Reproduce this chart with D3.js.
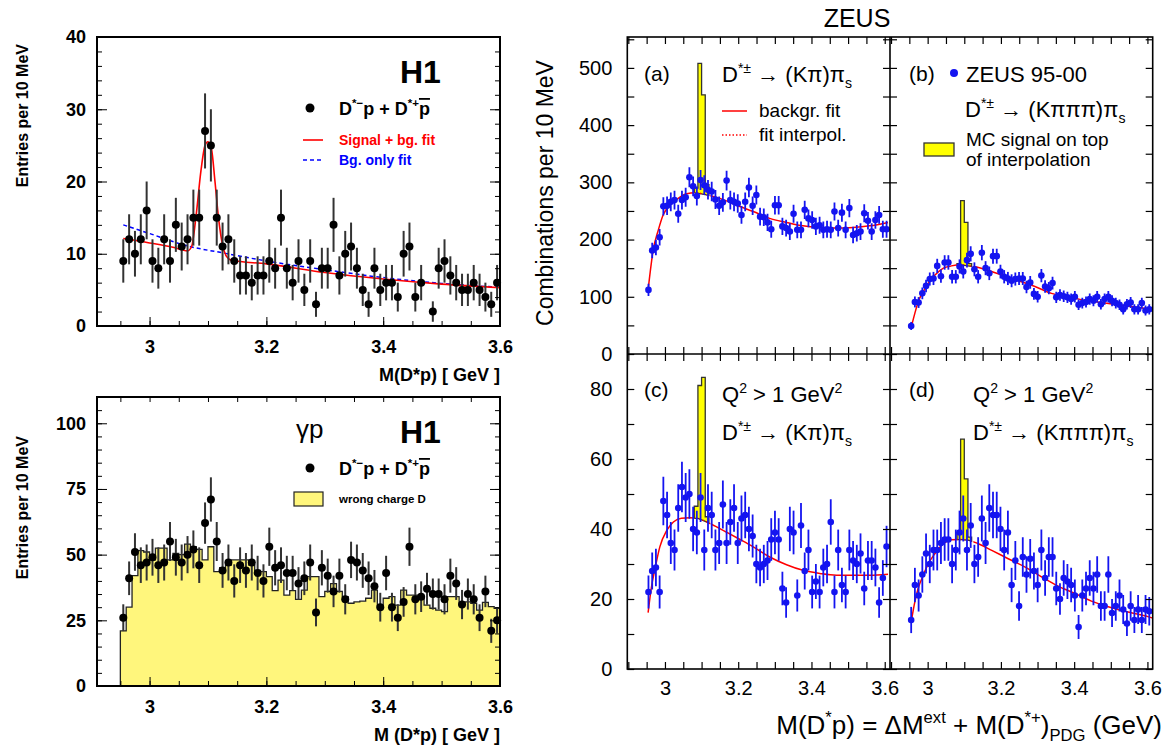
<!DOCTYPE html>
<html>
<head>
<meta charset="utf-8">
<title>D*p invariant mass: H1 and ZEUS</title>
<script src="https://d3js.org/d3.v7.min.js"></script>
<style>
  body { margin: 0; background: white; }
  svg { display: block; }
  text { font-family: "Liberation Sans", Arial, Helvetica, sans-serif; }
  .h1 text { font-weight: bold; }
  .h1 text.light { font-weight: normal; }
</style>
</head>
<body>
<svg id="chart" width="1175" height="748"></svg>
<script>
// ---------- values ----------
// H1: 10 MeV bins, first bin centre 2.955 GeV
var h1FirstBin = 2.955;
var h1BinWidth = 0.01;
// DIS sample, entries per bin (null = empty bin, not drawn)
var h1DisCounts = [9, 12, 10, 12, 16, 9, 8, 12, 9, 14, 11, 12, 15, 15, 27, 25, 15, 11, 12, 9,
  7, 7, 6, 7, 7, 9, 8, 15, 8, 6, 9, 5, 9, 3, 8, 8, 14, 7, 10, 11,
  8, 5, 3, 8, 5, 6, 6, 4, 10, 11, 4, 6, null, 2, 8, 9, 7, 6, 5, 5,
  6, 5, 4, 3, 6];
var h1SignalFit = [[2.955, 12.1], [3.0, 11.5], [3.04, 10.9], [3.065, 10.4], [3.072, 11.0], [3.08, 15.5],
  [3.088, 21.5], [3.095, 25.0], [3.1, 25.5], [3.106, 24.5], [3.112, 20], [3.118, 15], [3.125, 11.2],
  [3.132, 9.6], [3.14, 9.1], [3.2, 8.6], [3.3, 7.4], [3.4, 6.5], [3.5, 5.8], [3.6, 5.3]];
var h1BgFit = [[2.955, 14.0], [3.0, 12.8], [3.064, 11.1], [3.127, 10.1], [3.2, 9.0], [3.3, 7.8],
  [3.4, 6.7], [3.5, 5.9], [3.6, 5.35]];
// photoproduction sample
var h1PhotoCounts = [26, 41, 51, 46, 47, 49, 46, 47, 55, 49, 47, 50, 52, 46, 62, 71, 55, 44, 47, 40,
  46, 44, 47, 43, 40, 53, 45, 46, 43, 43, 39, 41, 47, 28, 45, 42, 36, 42, 33, 48,
  47, 44, 41, 38, 30, 43, 30, 26, 32, 53, 33, 34, 37, 35, 35, 33, 42, 39, 31, 35,
  33, 26, 36, 21, 25];
// wrong charge D histogram, bins 2.95-2.96 ... 3.59-3.60
var h1WrongCharge = [21, 30, 42, 51.5, 51, 48, 52.5, 52.5, 48, 50.5, 50, 54, 53, 52, 48, 53, 43.5, 45, 46, 48,
  48, 48, 46, 44, 43.5, 41.6, 36.3, 40.3, 34.6, 36.3, 33, 36.5, 41.6, 41.6, 34, 36, 39, 36, 34, 31.5,
  32, 32.3, 33.4, 36.5, 30.2, 33.4, 34, 30.8, 36.5, 34.6, 34.6, 33.4, 30.8, 29.6, 28.9, 28.3, 34, 34, 30.8, 32,
  31.5, 28.9, 31.8, 30.2, 29.6];

// ZEUS: 65 points spread evenly from the first to the last bin centre
var zeusFirstBin = 2.955;
var zeusLastBin = 3.605;
var zeusCountsA = [112, 181, 186, 204, 258, 259, 266, 269, 245, 269, 274, 309, 293, 276, 304, 295, 287, 284, 270, 259,
  265, 303, 269, 266, 263, 243, 266, 291, 259, 278, 240, 239, 230, 218, 260, 260, 223, 220, 214, 245,
  217, 217, 252, 237, 234, 223, 225, 217, 218, 217, 249, 220, 247, 217, 255, 208, 211, 214, 246, 233,
  214, 234, 243, 218, 218];
var zeusCountsB = [49, 91, 90, 106, 119, 131, 132, 154, 136, 160, 160, 135, 135, 153, 144, 164, 175, 148, 135, 177,
  150, 141, 171, 171, 144, 135, 132, 128, 131, 132, 132, 117, 125, 105, 100, 137, 118, 115, 124, 99,
  103, 101, 99, 96, 100, 86, 89, 91, 96, 93, 100, 87, 96, 100, 93, 89, 86, 78, 87, 90,
  78, 78, 89, 76, 78];
var zeusCountsC = [22, 28, 29, 22, 48, 44, 36, 34, 46, 52, 49, 50, 40, 39, 49, 34, 46, 44, 34, 36,
  47, 36, 42, 46, 36, 43, 44, 40, 38, 30, 29, 30, 31, 37, 39, 37, 23, 19, 40, 39,
  21, 41, 28, 34, 22, 25, 22, 29, 30, 42, 22, 34, 24, 22, 34, 31, 30, 33, 23, 31,
  31, 29, 19, 26, 35];
var zeusCountsD = [14, 24, 21, 27, 33, 30, 34, 34, 36, 37, 37, 30, 34, 39, 43, 34, 41, 30, 32, 43,
  36, 46, 44, 44, 40, 34, 39, 24, 31, 18, 32, 27, 31.5, 28, 24, 34, 26, 32, 32, 23,
  20, 26, 25, 24, 21, 12, 21, 23, 26, 23, 27, 18, 18, 27, 16, 18, 21, 17, 13, 18,
  14, 17, 14, 17, 16.5];
var zeusFitA = [[2.954, 112], [2.968, 182], [2.982, 217], [2.995, 243], [3.014, 260], [3.036, 272], [3.059, 280],
  [3.082, 282], [3.114, 278], [3.150, 272], [3.196, 260], [3.241, 249], [3.286, 237], [3.332, 230],
  [3.377, 224], [3.423, 221], [3.468, 220], [3.514, 221], [3.559, 224], [3.609, 230]];
var zeusFitB = [[2.956, 49], [2.965, 71], [2.974, 91], [2.988, 109], [3.002, 124], [3.020, 138], [3.043, 150],
  [3.065, 154], [3.088, 156], [3.111, 154], [3.134, 152], [3.156, 148], [3.202, 138], [3.247, 128],
  [3.293, 118], [3.338, 106], [3.383, 100], [3.429, 94], [3.475, 90], [3.520, 86], [3.565, 82], [3.611, 78]];
var zeusFitC = [[2.954, 16.1], [2.964, 24], [2.973, 28.7], [2.986, 34.9], [3.005, 39.6], [3.023, 42], [3.045, 43.1],
  [3.068, 43.2], [3.091, 43], [3.114, 42], [3.141, 40.6], [3.168, 39.1], [3.205, 37], [3.241, 34.9],
  [3.286, 32], [3.332, 29.8], [3.377, 28.2], [3.423, 27.3], [3.468, 26.8], [3.514, 26.8], [3.559, 26.8], [3.609, 27.1]];
var zeusFitD = [[2.956, 14], [2.965, 19.2], [2.974, 23], [2.988, 26.8], [3.002, 30.1], [3.020, 33], [3.043, 35.8],
  [3.065, 36.9], [3.088, 37], [3.111, 36.8], [3.138, 35.8], [3.175, 33.9], [3.220, 31.5], [3.265, 29.2],
  [3.311, 26.3], [3.356, 23.7], [3.402, 21.6], [3.447, 19.4], [3.493, 17.8], [3.538, 16.5], [3.584, 15.4], [3.613, 14.6]];
// MC signal on top of the interpolation: bin centres and bin tops
var zeusMcCentres = [3.085, 3.095, 3.105, 3.115];
var zeusMcA = [290, 508, 453, 296];
var zeusMcB = [158, 268, 230, 158];
var zeusMcC = [46.5, 81, 83.3, 43.5];
var zeusMcD = [39, 65.7, 54.3, 37.7];

// tick labels
var h1XLabels = [3, 3.2, 3.4, 3.6];
var h1YLabelsTop = [0, 10, 20, 30, 40];
var h1YLabelsBottom = [0, 25, 50, 75, 100];
var zeusXLabels = [3, 3.2, 3.4, 3.6];
var zeusYLabelsTop = [0, 100, 200, 300, 400, 500];
var zeusYLabelsBottom = [0, 20, 40, 60, 80];

// ---------- helpers ----------
var svg = d3.select("#chart");
var clipCount = 0;

// text with super/subscripts: parts = [[string, "sup"|"sub"|"bar"|undefined], ...]
function rich(g, x, y, parts, size) {
  var t = g.append("text").attr("x", x).attr("y", y).attr("font-size", size);
  var shift = 0;
  parts.forEach(function (p) {
    var s = p[1] === "sup" ? -0.42 * size : p[1] === "sub" ? 0.28 * size : 0;
    var ts = t.append("tspan").attr("dy", s - shift).text(p[0]);
    if (p[1] === "sup" || p[1] === "sub") ts.attr("font-size", size * 0.64);
    if (p[1] === "bar") ts.style("text-decoration", "overline");
    shift = s;
  });
  return t;
}

function noDomain(g) { g.select(".domain").remove(); }

// ---------- H1 panels ----------
function h1Panel(cfg) {
  var g = svg.append("g").attr("class", "h1");
  var x = d3.scaleLinear([2.91, 3.6], [97, 500]);
  var y = d3.scaleLinear([0, cfg.ymax], [cfg.bottom, cfg.top]);

  if (cfg.hist) {
    var edges = cfg.hist.map(function (v, i) { return [2.95 + i * h1BinWidth, v]; });
    edges.push([2.95 + cfg.hist.length * h1BinWidth, cfg.hist[cfg.hist.length - 1]]);
    g.append("path")
      .attr("d", d3.area().curve(d3.curveStepAfter)
        .x(function (d) { return x(d[0]); }).y0(y(0)).y1(function (d) { return y(d[1]); })(edges))
      .attr("fill", "#fff67c");
    var outline = [[edges[0][0], 0]].concat(edges);
    g.append("path")
      .attr("d", d3.line().curve(d3.curveStepAfter)
        .x(function (d) { return x(d[0]); }).y(function (d) { return y(d[1]); })(outline))
      .attr("fill", "none").attr("stroke", "#222").attr("stroke-width", 1.3);
  }

  var fitLine = d3.line().curve(d3.curveMonotoneX)
    .x(function (d) { return x(d[0]); }).y(function (d) { return y(d[1]); });
  if (cfg.bgFit) {
    g.append("path").attr("d", fitLine(cfg.bgFit))
      .attr("fill", "none").attr("stroke", "#0000ff").attr("stroke-width", 1.5).attr("stroke-dasharray", "4,3");
  }
  if (cfg.sigFit) {
    g.append("path").attr("d", fitLine(cfg.sigFit))
      .attr("fill", "none").attr("stroke", "#ff0000").attr("stroke-width", 1.6);
  }

  var pts = cfg.counts.map(function (v, i) { return { x: h1FirstBin + i * h1BinWidth, v: v }; })
    .filter(function (d) { return d.v !== null; });
  g.selectAll(".err").data(pts).join("line")
    .attr("x1", function (d) { return x(d.x); }).attr("x2", function (d) { return x(d.x); })
    .attr("y1", function (d) { return y(d.v - Math.sqrt(d.v)); })
    .attr("y2", function (d) { return y(d.v + Math.sqrt(d.v)); })
    .attr("stroke", "#333").attr("stroke-width", 2);
  g.selectAll(".pt").data(pts).join("circle")
    .attr("cx", function (d) { return x(d.x); }).attr("cy", function (d) { return y(d.v); })
    .attr("r", 4).attr("fill", "#000");

  // frame and ticks
  g.append("rect").attr("x", 97).attr("y", cfg.top).attr("width", 403).attr("height", cfg.bottom - cfg.top)
    .attr("fill", "none").attr("stroke", "#000").attr("stroke-width", 2);
  var xMinor = d3.range(2.95, 3.601, 0.05);
  g.append("g").attr("transform", "translate(0," + cfg.bottom + ")")
    .call(d3.axisBottom(x).tickValues(xMinor).tickSize(-5).tickFormat("")).call(noDomain);
  if (cfg.topTicks) {
    g.append("g").attr("transform", "translate(0," + cfg.top + ")")
      .call(d3.axisTop(x).tickValues(xMinor).tickSize(-5).tickFormat("")).call(noDomain);
  }
  var xAx = g.append("g").attr("transform", "translate(0," + cfg.bottom + ")")
    .call(d3.axisBottom(x).tickValues(h1XLabels).tickSize(-9).tickPadding(14).tickFormat(d3.format("")))
    .call(noDomain);
  xAx.selectAll("text").attr("font-size", 18).attr("font-family", null).attr("fill", "#000");
  xAx.attr("font-family", null);

  [[d3.axisLeft, 97], [d3.axisRight, 500]].forEach(function (a) {
    g.append("g").attr("transform", "translate(" + a[1] + ",0)")
      .call(a[0](y).tickValues(d3.range(0, cfg.ymax + 0.01, cfg.minor)).tickSize(-5).tickFormat(""))
      .call(noDomain);
    g.append("g").attr("transform", "translate(" + a[1] + ",0)")
      .call(a[0](y).tickValues(cfg.yLabels).tickSize(-10).tickFormat(""))
      .call(noDomain);
  });
  var yAx = g.append("g").attr("transform", "translate(97,0)")
    .call(d3.axisLeft(y).tickValues(cfg.yLabels).tickSize(0).tickPadding(11))
    .call(noDomain);
  yAx.attr("font-family", null);
  yAx.selectAll("text").attr("font-size", 18).attr("fill", "#000");

  g.append("text").attr("transform", "translate(28," + cfg.titleEnd + ") rotate(-90)")
    .attr("text-anchor", "end").attr("font-size", 16).text("Entries per 10 MeV");
  g.append("text").attr("x", 500).attr("y", cfg.bottom + 55).attr("text-anchor", "end")
    .attr("font-size", 18).text(cfg.xTitle);
  g.append("text").attr("x", 400).attr("y", cfg.top + 46).attr("font-size", 32).text("H1");
  return g;
}

var h1Top = h1Panel({
  top: 37, bottom: 326, ymax: 40, minor: 2, yLabels: h1YLabelsTop,
  counts: h1DisCounts, sigFit: h1SignalFit, bgFit: h1BgFit,
  titleEnd: 44, xTitle: "M(D*p) [ GeV ]", topTicks: false
});
h1Top.append("circle").attr("cx", 310).attr("cy", 108).attr("r", 4.5).attr("fill", "#000");
rich(h1Top, 339, 115, [["D"], ["*\u2212", "sup"], ["p + D"], ["*+", "sup"], ["p", "bar"]], 18);
h1Top.append("line").attr("x1", 303).attr("x2", 323).attr("y1", 140).attr("y2", 140)
  .attr("stroke", "#ff0000").attr("stroke-width", 1.6);
h1Top.append("text").attr("x", 339).attr("y", 145).attr("font-size", 14).attr("fill", "#ff0000").text("Signal + bg. fit");
h1Top.append("line").attr("x1", 303).attr("x2", 323).attr("y1", 160).attr("y2", 160)
  .attr("stroke", "#0000ff").attr("stroke-width", 1.5).attr("stroke-dasharray", "4,3");
h1Top.append("text").attr("x", 339).attr("y", 165).attr("font-size", 14).attr("fill", "#0000ff").text("Bg. only fit");

var h1Bottom = h1Panel({
  top: 397, bottom: 686, ymax: 110, minor: 5, yLabels: h1YLabelsBottom,
  counts: h1PhotoCounts, hist: h1WrongCharge,
  titleEnd: 436, xTitle: "M (D*p) [ GeV ]", topTicks: true
});
h1Bottom.append("text").attr("class", "light").attr("x", 296).attr("y", 438).attr("font-size", 26)
  .text("\u03b3p");
h1Bottom.append("circle").attr("cx", 310).attr("cy", 468).attr("r", 4.5).attr("fill", "#000");
rich(h1Bottom, 339, 475, [["D"], ["*\u2212", "sup"], ["p + D"], ["*+", "sup"], ["p", "bar"]], 18);
h1Bottom.append("rect").attr("x", 294).attr("y", 492).attr("width", 29).attr("height", 14)
  .attr("fill", "#fff67c").attr("stroke", "#222").attr("stroke-width", 1.2);
h1Bottom.append("text").attr("x", 339).attr("y", 503).attr("font-size", 11.5).text("wrong charge D");

// ---------- ZEUS panels ----------
var zeus = svg.append("g").attr("class", "zeus");
var zDomain = [2.8972, 3.6144];

function zeusPanel(cfg) {
  var g = zeus.append("g");
  var x = d3.scaleLinear(zDomain, [cfg.left, cfg.left + 262.7]);
  var y = d3.scaleLinear([0, cfg.ymax], [cfg.bottom, cfg.top]);
  var fitAt = d3.scaleLinear(cfg.fit.map(function (d) { return d[0]; }), cfg.fit.map(function (d) { return d[1]; }));

  // MC signal stacked on the interpolated background
  var half = 0.005;
  var topEdge = [];
  zeusMcCentres.forEach(function (c, i) {
    topEdge.push([c - half, cfg.mc[i]], [c + half, cfg.mc[i]]);
  });
  var x0 = zeusMcCentres[0] - half, x1 = zeusMcCentres[zeusMcCentres.length - 1] + half;
  var base = d3.range(x1, x0 - 0.0001, -0.005).map(function (v) { return [v, fitAt(v)]; });
  var poly = [[x0, fitAt(x0)]].concat(topEdge).concat(base);
  g.append("path")
    .attr("d", d3.line().x(function (d) { return x(d[0]); }).y(function (d) { return y(d[1]); })(poly) + "Z")
    .attr("fill", "#ffff00").attr("stroke", "#333").attr("stroke-width", 1.3);

  // fit: solid outside the signal window, dotted interpolation inside
  var idOut = "clipOut" + (++clipCount), idIn = "clipIn" + clipCount;
  var defs = g.append("defs");
  var cpOut = defs.append("clipPath").attr("id", idOut);
  cpOut.append("rect").attr("x", cfg.left).attr("y", cfg.top).attr("width", x(3.078) - cfg.left).attr("height", cfg.bottom - cfg.top);
  cpOut.append("rect").attr("x", x(3.125)).attr("y", cfg.top).attr("width", cfg.left + 263 - x(3.125)).attr("height", cfg.bottom - cfg.top);
  defs.append("clipPath").attr("id", idIn).append("rect")
    .attr("x", x(3.078)).attr("y", cfg.top).attr("width", x(3.125) - x(3.078)).attr("height", cfg.bottom - cfg.top);
  var fitLine = d3.line().curve(d3.curveMonotoneX)
    .x(function (d) { return x(d[0]); }).y(function (d) { return y(d[1]); });
  g.append("path").attr("d", fitLine(cfg.fit)).attr("clip-path", "url(#" + idOut + ")")
    .attr("fill", "none").attr("stroke", "#ff0000").attr("stroke-width", 1.5);
  g.append("path").attr("d", fitLine(cfg.fit)).attr("clip-path", "url(#" + idIn + ")")
    .attr("fill", "none").attr("stroke", "#ff0000").attr("stroke-width", 1.3).attr("stroke-dasharray", "1.5,2");

  var n = cfg.counts.length;
  var step = (zeusLastBin - zeusFirstBin) / (n - 1);
  var pts = cfg.counts.map(function (v, i) { return { x: zeusFirstBin + i * step, v: v }; });
  var clipId = "clipP" + clipCount;
  defs.append("clipPath").attr("id", clipId).append("rect")
    .attr("x", cfg.left).attr("y", cfg.top).attr("width", 262.7).attr("height", cfg.bottom - cfg.top);
  var pg = g.append("g").attr("clip-path", "url(#" + clipId + ")");
  pg.selectAll("line").data(pts).join("line")
    .attr("x1", function (d) { return x(d.x); }).attr("x2", function (d) { return x(d.x); })
    .attr("y1", function (d) { return y(d.v - Math.sqrt(d.v)); })
    .attr("y2", function (d) { return y(d.v + Math.sqrt(d.v)); })
    .attr("stroke", "#1414f0").attr("stroke-width", 1.8);
  pg.selectAll("circle").data(pts).join("circle")
    .attr("cx", function (d) { return x(d.x); }).attr("cy", function (d) { return y(d.v); })
    .attr("r", 3.3).attr("fill", "#1414f0");

  // ticks on all four sides, pointing inwards
  var xt = d3.range(2.9, 3.6001, 0.05);
  g.append("g").attr("transform", "translate(0," + cfg.bottom + ")")
    .call(d3.axisBottom(x).tickValues(xt).tickSize(-7).tickFormat("")).call(noDomain);
  g.append("g").attr("transform", "translate(0," + cfg.top + ")")
    .call(d3.axisTop(x).tickValues(xt).tickSize(-7).tickFormat("")).call(noDomain);
  var yt = d3.range(0, cfg.ymax, cfg.minor);
  g.append("g").attr("transform", "translate(" + cfg.left + ",0)")
    .call(d3.axisLeft(y).tickValues(yt).tickSize(-7).tickFormat("")).call(noDomain);
  g.append("g").attr("transform", "translate(" + (cfg.left + 262.7) + ",0)")
    .call(d3.axisRight(y).tickValues(yt).tickSize(-7).tickFormat("")).call(noDomain);
  g.selectAll(".tick line").attr("stroke-width", 1.2);

  if (cfg.yLabels) {
    var ya = g.append("g").attr("transform", "translate(" + cfg.left + ",0)")
      .call(d3.axisLeft(y).tickValues(cfg.yLabels).tickSize(0).tickPadding(15)).call(noDomain);
    ya.attr("font-family", null);
    ya.selectAll("text").attr("font-size", 20).attr("fill", "#000");
  }
  if (cfg.xLabels) {
    var xa = g.append("g").attr("transform", "translate(0," + cfg.bottom + ")")
      .call(d3.axisBottom(x).tickValues(zeusXLabels).tickSize(0).tickPadding(12).tickFormat(d3.format("")))
      .call(noDomain);
    xa.attr("font-family", null);
    xa.selectAll("text").attr("font-size", 20).attr("fill", "#000");
  }
  return g;
}

var zA = zeusPanel({ left: 627.3, top: 37, bottom: 354, ymax: 554, minor: 50, counts: zeusCountsA, fit: zeusFitA, mc: zeusMcA, yLabels: zeusYLabelsTop });
var zB = zeusPanel({ left: 890, top: 37, bottom: 354, ymax: 554, minor: 50, counts: zeusCountsB, fit: zeusFitB, mc: zeusMcB });
var zC = zeusPanel({ left: 627.3, top: 354, bottom: 669, ymax: 90, minor: 10, counts: zeusCountsC, fit: zeusFitC, mc: zeusMcC, yLabels: zeusYLabelsBottom, xLabels: true });
var zD = zeusPanel({ left: 890, top: 354, bottom: 669, ymax: 90, minor: 10, counts: zeusCountsD, fit: zeusFitD, mc: zeusMcD, xLabels: true });

// frame of the 2x2 block
zeus.append("rect").attr("x", 627.3).attr("y", 37).attr("width", 525.4).attr("height", 632)
  .attr("fill", "none").attr("stroke", "#000").attr("stroke-width", 1.6);
zeus.append("line").attr("x1", 890).attr("x2", 890).attr("y1", 37).attr("y2", 669).attr("stroke", "#000").attr("stroke-width", 1.6);
zeus.append("line").attr("x1", 627.3).attr("x2", 1152.7).attr("y1", 354).attr("y2", 354).attr("stroke", "#000").attr("stroke-width", 1.6);

// titles
zeus.append("text").attr("x", 857).attr("y", 27).attr("text-anchor", "middle").attr("font-size", 25).text("ZEUS");
zeus.append("text").attr("transform", "translate(553,193) rotate(-90)").attr("text-anchor", "middle")
  .attr("font-size", 23).text("Combinations per 10 MeV");
rich(zeus, 1162, 734, [["M(D"], ["*", "sup"], ["p) = \u0394M"], ["ext", "sup"], [" + M(D"], ["*+", "sup"], [")"],
  ["PDG", "sub"], [" (GeV)"]], 26).attr("text-anchor", "end");

// panel labels and legends
zeus.append("text").attr("x", 644).attr("y", 81).attr("font-size", 21).text("(a)");
rich(zeus, 722, 82, [["D"], ["*\u00b1", "sup"], [" \u2192 (K\u03c0)\u03c0"], ["s", "sub"]], 22);
zeus.append("line").attr("x1", 722).attr("x2", 747).attr("y1", 111).attr("y2", 111).attr("stroke", "#ff0000").attr("stroke-width", 1.5);
zeus.append("text").attr("x", 759).attr("y", 117).attr("font-size", 19).text("backgr. fit");
zeus.append("line").attr("x1", 722).attr("x2", 747).attr("y1", 135).attr("y2", 135).attr("stroke", "#ff0000")
  .attr("stroke-width", 1.3).attr("stroke-dasharray", "1.5,2");
zeus.append("text").attr("x", 759).attr("y", 141).attr("font-size", 19).text("fit interpol.");

zeus.append("text").attr("x", 909).attr("y", 81).attr("font-size", 21).text("(b)");
zeus.append("circle").attr("cx", 954).attr("cy", 73).attr("r", 4).attr("fill", "#1414f0");
zeus.append("text").attr("x", 966).attr("y", 82).attr("font-size", 22).text("ZEUS 95-00");
rich(zeus, 965, 117, [["D"], ["*\u00b1", "sup"], [" \u2192 (K\u03c0\u03c0\u03c0)\u03c0"], ["s", "sub"]], 22);
zeus.append("rect").attr("x", 924).attr("y", 143).attr("width", 30).attr("height", 13)
  .attr("fill", "#ffff00").attr("stroke", "#333").attr("stroke-width", 1.3);
zeus.append("text").attr("x", 966).attr("y", 146).attr("font-size", 19).text("MC signal on top");
zeus.append("text").attr("x", 966).attr("y", 166).attr("font-size", 19).text("of interpolation");

zeus.append("text").attr("x", 644).attr("y", 397).attr("font-size", 21).text("(c)");
rich(zeus, 722, 402, [["Q"], ["2", "sup"], [" > 1 GeV"], ["2", "sup"]], 22);
rich(zeus, 722, 440, [["D"], ["*\u00b1", "sup"], [" \u2192 (K\u03c0)\u03c0"], ["s", "sub"]], 22);

zeus.append("text").attr("x", 909).attr("y", 397).attr("font-size", 21).text("(d)");
rich(zeus, 973, 402, [["Q"], ["2", "sup"], [" > 1 GeV"], ["2", "sup"]], 22);
rich(zeus, 973, 440, [["D"], ["*\u00b1", "sup"], [" \u2192 (K\u03c0\u03c0\u03c0)\u03c0"], ["s", "sub"]], 22);
</script>
</body>
</html>
